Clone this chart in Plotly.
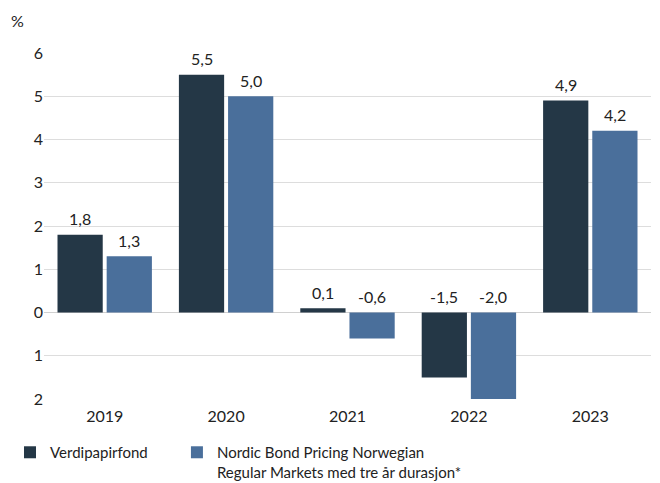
import plotly.graph_objects as go

years = ["2019", "2020", "2021", "2022", "2023"]
fund = [1.8, 5.5, 0.1, -1.5, 4.9]
index = [1.3, 5.0, -0.6, -2.0, 4.2]
series_names = ["Verdipapirfond", "Nordic Bond Pricing Norwegian<br>Regular Markets med tre år durasjon*"]
y_tickvals = [6, 5, 4, 3, 2, 1, 0, -1, -2]
y_ticktext = ["6", "5", "4", "3", "2", "1", "0", "1", "2"]

DARK = "#243746"
BLUE = "#4a6f9b"
FONT = "Lato"
TXT = "#222222"
BARGAP = 0.19

fig = go.Figure()
fig.add_trace(go.Bar(x=years, y=fund, name=series_names[0], legend="legend",
                     marker=dict(color=DARK, line=dict(width=0))))
fig.add_trace(go.Bar(x=years, y=index, name=series_names[1], legend="legend2",
                     marker=dict(color=BLUE, line=dict(width=0))))

def fmt(v):
    return f"{v:.1f}".replace(".", ",")

anns = []
off = (1 - BARGAP) / 4
for s, vals in enumerate([fund, index]):
    for i, v in enumerate(vals):
        anns.append(dict(x=i + (-off if s == 0 else off), y=max(v, 0), xref="x", yref="y",
                         text=fmt(v), showarrow=False, yanchor="middle", yshift=16,
                         font=dict(family=FONT, size=16, color=TXT)))
anns.append(dict(x=-0.043, y=1.095, xref="paper", yref="paper", text="%", showarrow=False,
                 xanchor="center", yanchor="middle", font=dict(family=FONT, size=16, color=TXT)))

leg_common = dict(orientation="h", y=-0.107, xanchor="left", yanchor="top", valign="top",
                  font=dict(family=FONT, size=15, color=TXT), itemclick=False,
                  bgcolor="rgba(0,0,0,0)")

# the page body adds an 8 px offset, so the figure is drawn 8 px smaller
fig.update_layout(
    width=652, height=475,
    margin=dict(l=36, r=9, t=45, b=84, autoexpand=False),
    paper_bgcolor="white", plot_bgcolor="white",
    barmode="group", bargap=BARGAP, bargroupgap=0.08,
    font=dict(family=FONT, size=16, color=TXT),
    annotations=anns,
    showlegend=True,
    legend=dict(x=-0.056, **leg_common),
    legend2=dict(x=0.219, **leg_common),
    xaxis=dict(showgrid=False, showline=False, ticks="", tickfont=dict(size=16),
               automargin=False, ticklabelstandoff=6),
    yaxis=dict(range=[-2, 6], tickvals=y_tickvals, ticktext=y_ticktext, showgrid=True,
               gridcolor="#dddddd", gridwidth=1, zeroline=True, zerolinecolor="#d0d0d0",
               zerolinewidth=1, showline=False, ticks="", tickfont=dict(size=16),
               automargin=False),
)

fig.write_html("out.html")
